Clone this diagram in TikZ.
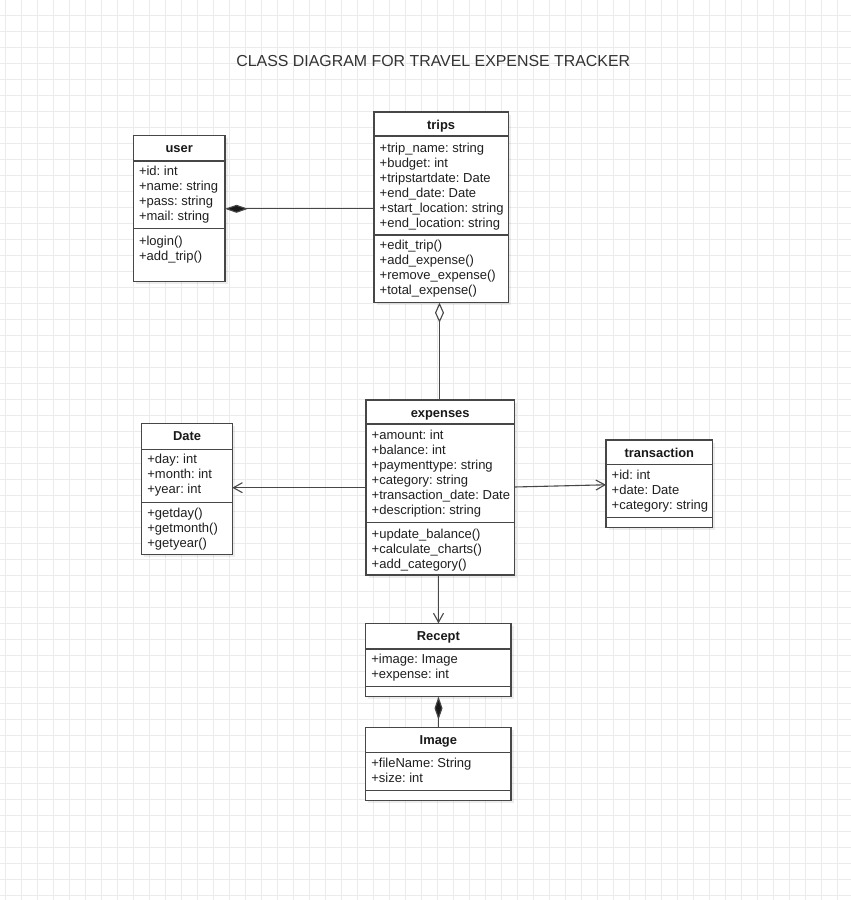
\documentclass[tikz,border=0pt]{standalone}
\usepackage{fontspec}
\setmainfont{Liberation Sans}
\usetikzlibrary{arrows.meta,shadows}
\frenchspacing
\newcommand\umlclass[8]{%
  \node[cls, minimum width={#4-#2}, minimum height={#7-#3}] (#1) at (#2,#3) {};
  \draw[sepline] (#2,#5) -- (#4,#5);
  \draw[sepline] (#2,#6) -- (#4,#6);
  \node[hdr] (#1-title) at ({(#2+#4)/2},{#3+17}) {#8};
}
\newcommand\umllines[4]{%
  \foreach \mytext [count=\myi from 0] in {#4} {
    \node[txt] (#1\myi) at ({#2+5.5},{#3+15*\myi}) {\mytext};
  }
}
\begin{document}
\begin{tikzpicture}[x=1pt,y=-1pt,
  gridline/.style={draw=black!8, line width=0.8pt},
  cls/.style={draw=black!72, line width=1.1pt, fill=white, inner sep=0pt, outer sep=0pt,
    anchor=north west, drop shadow={shadow xshift=2.5pt, shadow yshift=-2.5pt, opacity=0.07, fill=black}},
  sepline/.style={draw=black!72, line width=1.1pt},
  hdr/.style={font=\fontsize{12.9}{15}\selectfont\bfseries, text=black!90, anchor=base, inner sep=0pt},
  txt/.style={font=\fontsize{13}{15}\selectfont, text=black!88, anchor=base west, inner sep=0pt},
  titletxt/.style={font=\fontsize{15.9}{19}\selectfont, text=black!80, anchor=base, inner sep=0pt},
  conn/.style={draw=black!72, line width=1.1pt, line join=miter},
  compo/.style={conn, -{Diamond[length=23pt,width=8pt,fill=black!90]}},
  aggr/.style={conn, -{Diamond[open,length=20pt,width=9pt,fill=white]}},
  assoc/.style={conn, -{Straight Barb[length=9pt,width=10pt]}}
]
\useasboundingbox (0,0) rectangle (851,900);
\fill[white] (0,0) rectangle (851,900);
\foreach \i in {0,...,53} \draw[gridline] ({5.7+16*\i},0) -- ({5.7+16*\i},900);
\foreach \i in {0,...,55} \draw[gridline] (0,{15.7+16*\i}) -- (851,{15.7+16*\i});

\node[titletxt] (title) at (433.3,66) {CLASS DIAGRAM FOR TRAVEL EXPENSE TRACKER};

% user
\umlclass{user}{133.3}{135.7}{225}{161}{228.7}{281.7}{user}
\umllines{ua}{133.3}{175.7}{+id: int,+name: string,+pass: string,+mail: string}
\umllines{um}{133.3}{245}{+login(),+add\_trip()}

% trips
\umlclass{trips}{374}{112}{508.3}{136}{235}{302.7}{trips}
\umllines{ta}{374}{152.5}{+trip\_name: string,+budget: int,+tripstartdate: Date,+end\_date: Date,+start\_location: string,+end\_location: string}
\umllines{tm}{374}{249.5}{+edit\_trip(),+add\_expense(),+remove\_expense(),+total\_expense()}

% Date
\umlclass{Date}{141.7}{423.3}{232.3}{449.3}{502.3}{554.3}{Date}
\umllines{da}{141.7}{463.5}{+day: int,+month: int,+year: int}
\umllines{dm}{141.7}{517.5}{+getday(),+getmonth(),+getyear()}

% expenses
\umlclass{expenses}{366}{400}{514.3}{424}{522.7}{575}{expenses}
\umllines{ea}{366}{439.7}{+amount: int,+balance: int,+paymenttype: string,+category: string,+transaction\_date: Date,+description: string}
\umllines{em}{366}{538}{+update\_balance(),+calculate\_charts(),+add\_category()}

% transaction
\umlclass{transaction}{606}{440}{712.7}{464.3}{517.7}{527.3}{transaction}
\umllines{xa}{606}{479.7}{+id: int,+date: Date,+category: string}

% Recept
\umlclass{Recept}{365.7}{623.3}{511}{649}{686.7}{696.7}{Recept}
\umllines{ra}{365.7}{663}{+image: Image,+expense: int}

% Image
\umlclass{Image}{365.7}{727.7}{511}{752.7}{790.7}{800.7}{Image}
\umllines{ia}{365.7}{767}{+fileName: String,+size: int}

% connectors
\coordinate (c1) at (0,208.8);
\draw[compo] (trips.west |- c1) -- (user.east |- c1);
\coordinate (c2) at (439.5,0);
\draw[aggr] (expenses.north -| c2) -- (trips.south -| c2);
\coordinate (c3) at (0,487.7);
\draw[assoc] (expenses.west |- c3) -- (Date.east |- c3);
\coordinate (c4a) at (0,487);
\coordinate (c4b) at (0,484.8);
\draw[assoc] (expenses.east |- c4a) -- (transaction.west |- c4b);
\coordinate (c5) at (438.5,0);
\draw[assoc] (expenses.south -| c5) -- (Recept.north -| c5);
\draw[compo] (Image.north -| c5) -- (Recept.south -| c5);
\end{tikzpicture}
\end{document}
